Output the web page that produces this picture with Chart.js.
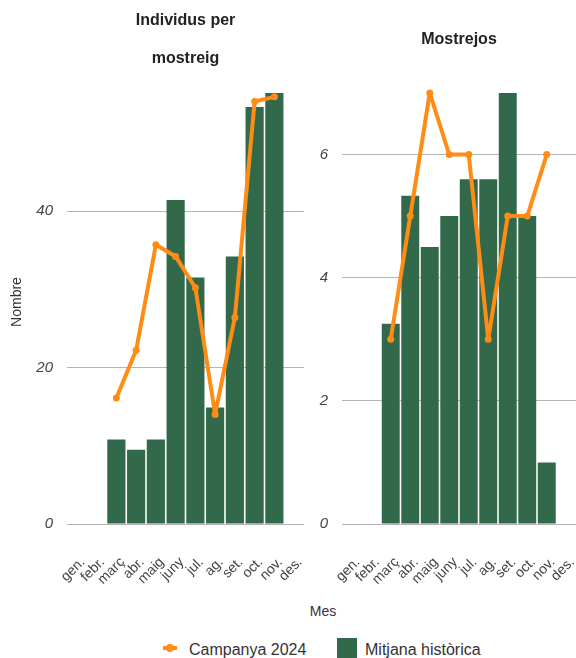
<!DOCTYPE html>
<html>
<head>
<meta charset="utf-8">
<script src="https://cdn.jsdelivr.net/npm/chart.js@4"></script>
<style>
  body { margin: 0; width: 576px; height: 658px; position: relative; background: #fff; overflow: hidden;
         font-family: "Liberation Sans", Arial, sans-serif; }
  #left { position: absolute; left: 0; top: 0; }
  #right { position: absolute; left: 306px; top: 0; }
  #mes { position: absolute; left: 223px; width: 200px; top: 603px; text-align: center; font-size: 14px; color: #333; }
  .lg-text { position: absolute; top: 640px; font-size: 16px; color: #333; line-height: 20px; white-space: nowrap; }
  #lg-line { position: absolute; left: 163px; top: 646px; width: 14px; height: 4px; background: #ff8c14; }
  #lg-dot { position: absolute; left: 166px; top: 644px; width: 8px; height: 8px; border-radius: 50%; background: #ff8c14; }
  #lg-box { position: absolute; left: 337px; top: 638px; width: 20px; height: 20px; background: #33694b; }
</style>
</head>
<body>
<canvas id="left" width="306" height="596"></canvas>
<canvas id="right" width="270" height="596"></canvas>
<div id="mes">Mes</div>
<div id="lg-line"></div><div id="lg-dot"></div>
<div class="lg-text" style="left:189px">Campanya 2024</div>
<div id="lg-box"></div>
<div class="lg-text" style="left:365px">Mitjana històrica</div>

<script>
// Month labels (Catalan abbreviations)
const months = ['gen.', 'febr.', 'març', 'abr.', 'maig', 'juny', 'jul.', 'ag.', 'set.', 'oct.', 'nov.', 'des.'];

// Individuals per sampling
const individus2024    = [null, null, 16.1, 22.2, 35.7, 34.2, 30.2, 14.0, 26.4, 54.0, 54.6, null];
const individusMitjana = [null, null, 10.8,  9.5, 10.8, 41.4, 31.5, 14.9, 34.2, 53.3, 55.1, null];

// Number of samplings
const mostrejos2024    = [null, null, 3, 5, 7, 6, 6, 3, 5, 5, 6, null];
const mostrejosMitjana = [null, null, 3.25, 5.33, 4.5, 5, 5.6, 5.6, 7, 5, 1, null];

const seriesNames = ['Campanya 2024', 'Mitjana històrica'];

const FONT = '"Liberation Sans", Arial, sans-serif';
const ORANGE = '#ff8c14';
const GREEN = '#33694b';

function buildPanel(id, title, lineVals, barVals, step, opts) {
  const all = lineVals.concat(barVals).filter(v => v !== null);
  const yMax = Math.max(...all) * 1.03;
  return new Chart(document.getElementById(id), {
    type: 'bar',
    data: {
      labels: months,
      datasets: [
        {
          type: 'line', label: seriesNames[0], data: lineVals,
          borderColor: ORANGE, backgroundColor: ORANGE, borderWidth: 4,
          borderJoinStyle: 'round', borderCapStyle: 'round',
          pointRadius: 3.5, pointBorderWidth: 0, pointBackgroundColor: ORANGE,
          tension: 0, fill: false
        },
        {
          type: 'bar', label: seriesNames[1], data: barVals,
          backgroundColor: GREEN, borderWidth: 0,
          barPercentage: 0.92, categoryPercentage: 1.0
        }
      ]
    },
    options: {
      responsive: false,
      animation: false,
      layout: { autoPadding: false, padding: { left: 0, right: opts.rightPad, top: 0, bottom: 0 } },
      plugins: {
        legend: { display: false },
        tooltip: { enabled: false },
        title: {
          display: true, text: title, fullSize: false, color: '#222',
          font: { family: FONT, size: 16, weight: 'bold', lineHeight: 2.375 },
          padding: opts.titlePad
        }
      },
      scales: {
        x: {
          grid: { display: false, drawTicks: false },
          border: { display: false },
          ticks: { autoSkip: false, minRotation: 45, maxRotation: 45, color: '#444',
                   font: { family: FONT, size: 14 }, padding: 30, labelOffset: 6 },
          afterFit(s) { s.height = 72; s.paddingLeft = 0; s.paddingRight = 0; }
        },
        y: {
          min: 0, max: yMax,
          grid: { color: '#b5b5b5', lineWidth: 1, drawTicks: false },
          border: { display: false },
          ticks: { stepSize: step, includeBounds: false, padding: 14, color: '#444',
                   font: { family: FONT, size: 15, style: 'italic' } },
          title: { display: opts.yTitle, text: 'Nombre', color: '#333',
                   font: { family: FONT, size: 14 }, padding: { top: 9, bottom: 0 } },
          afterFit(s) { s.width = opts.yWidth; }
        }
      }
    }
  });
}

buildPanel('left', ['Individus per', 'mostreig'], individus2024, individusMitjana, 20,
  { yTitle: true, yWidth: 67, rightPad: 2, titlePad: { top: 2, bottom: 2 } });
buildPanel('right', 'Mostrejos', mostrejos2024, mostrejosMitjana, 2,
  { yTitle: false, yWidth: 36, rightPad: 0, titlePad: { top: 21, bottom: 21 } });
</script>
</body>
</html>
